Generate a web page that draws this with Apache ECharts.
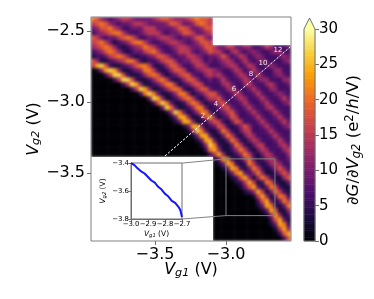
<!DOCTYPE html>
<html><head><meta charset="utf-8">
<style>html,body{margin:0;padding:0;background:#fff}#c{width:374px;height:299px}</style>
<script src="https://cdn.jsdelivr.net/npm/echarts@6/dist/echarts.min.js"></script>
</head><body><div id="c"></div>
<script>
// dG/dVg2, one digit per cell, in units of 3 e^2/h/V
const unit = 3;
// cells left of the stitch at Vg1 = -3.07 (rows from the top, 28 columns)
const leftRows = [
"7643 2345 5433 3345 6654 4456 7665",
"5676 4323 3455 4333 3466 5334 6765",
"3466 7542 2333 5553 3334 6653 3466",
"2345 6775 3223 4555 3233 4665 3345",
"6532 3356 7642 2334 5543 2334 6643",
"5675 3123 4677 5322 3455 4323 4665",
"4567 6421 2345 7653 2234 5543 3466",
"2346 7642 1233 5675 3223 5553 2346",
"1223 5676 4212 2346 6532 3355 4323",
"6411 2345 7752 1223 5664 2335 5423",
"5896 2112 3467 7521 2466 4223 5542",
"0148 9841 1234 7752 1246 6522 3455",
"0002 5996 2112 4676 3123 5663 2245",
"0000 0259 9621 1246 7521 2466 4223",
"0000 0002 5984 1123 5774 1235 6522",
"0000 0000 0259 8411 2467 6212 4663",
"0000 0000 0002 7973 1124 7741 2356",
"0000 0000 0000 0398 4112 4675 2135",
"0000 0000 0000 0026 9731 1257 6312",
"0000 0000 0000 0000 3973 1124 7731",
"0000 0000 0000 0000 0149 7312 4773",
"0000 0000 0000 0000 0013 8841 1368",
"0000 0000 0000 0000 0001 3884 1124",
"0000 0000 0000 0000 0000 0138 8412",
"0000 0000 0000 0000 0000 0014 9731",
"0000 0000 0000 0000 0000 0001 3883",
"0000 0000 0000 0000 0000 0000 1388",
"0000 0000 0000 0000 0000 0000 0149",
"0000 0000 0000 0000 0000 0000 0027",
"0000 0000 0000 0000 0000 0000 0002"
];
// cells right of the stitch (18 columns), starting at row 6
const rightRowStart = 6;
const rightRows = [
"5335 5334 4223 5422 23",
"5532 4532 3432 2344 22",
"3464 2354 2343 2223 43",
"2345 4235 3234 3222 34",
"2234 5423 5422 3432 22",
"4322 3542 3532 2244 22",
"4532 2354 2353 2234 32",
"2353 2235 4234 4222 44",
"2245 3224 5322 4532 23",
"2224 5322 3532 2442 22",
"6322 3542 2353 2234 32",
"5632 2354 2235 3223 53",
"3563 2235 3223 5322 34",
"2356 3223 5322 4532 22",
"1235 6322 3532 2353 22",
"4123 6522 2353 2235 32",
"6521 3652 2235 3223 53",
"3652 1246 4223 5322 34",
"1375 2135 5222 3532 22",
"1137 5213 5422 2353 22",
"3113 7521 3542 2235 32",
"7211 3752 1355 2224 53",
"8411 2475 2135 4222 45",
"5841 1247 5213 5422 24",
"1387 2125 7312 4542 23",
"0138 7212 7521 2454 22",
"0013 8721 3752 1246 42",
"0001 3783 2474 1124 64",
"0000 1268 4147 5211 46",
"0000 0125 8512 7621 13",
"0000 0013 6831 3762 11",
"0000 0001 2485 1375 21",
"0000 0000 0158 4137 62",
"0000 0000 0026 8313 75",
"0000 0000 0013 8721 37",
"0000 0000 0001 3861 14",
"0000 0000 0000 1484 12",
"0000 0000 0000 0268 31",
"0000 0000 0000 0138 72",
"0000 0000 0000 0015 84",
"0000 0000 0000 0002 68",
"0000 0000 0000 0000 26"
];
const nCols = 46, nRows = 48;
const xRange = [-3.951, -2.542], yRange = [-3.979, -2.4];
const xTicks = [-3.5, -3.0], yTicks = [-3.5, -3.0, -2.5];
const cutLineX = [-3.43, -2.542], cutLineY = [-3.38, -2.606];
const cutNames = ["2","4","6","8","10","12"];
const cutLabelX = [-3.162,-3.070,-2.944,-2.824,-2.739,-2.634];
const cutLabelY = [-3.099,-3.014,-2.908,-2.803,-2.725,-2.634];
const zoomBoxX = [-3.0,-2.655], zoomBoxY = [-3.8,-3.4];
const insetCornerX = -3.31, insetCornerY = [-3.43,-3.824];
const insetV1 = [-3.00,-2.98,-2.96,-2.94,-2.92,-2.90,-2.88,-2.86,-2.84,-2.82,-2.80,-2.78,-2.76,-2.74,-2.72,-2.71,-2.70];
const insetV2 = [-3.40,-3.415,-3.44,-3.46,-3.475,-3.50,-3.525,-3.54,-3.57,-3.59,-3.62,-3.64,-3.67,-3.685,-3.715,-3.735,-3.785];
const insetXTicks = [-3.0,-2.9,-2.8,-2.7];
const barTicks = [0,5,10,15,20,25,30];
const inferno = ['#000004','#1b0c41','#4a0c6b','#781c6d','#a52c60','#cf4446','#ed6925','#fb9b06','#f7d13d','#fcffa4'];

const cells = [];
leftRows.forEach((s,r)=>{ s.replace(/ /g,'').split('').forEach((d,c)=>cells.push([c,r,+d*unit])); });
rightRows.forEach((s,i)=>{ s.replace(/ /g,'').split('').forEach((d,c)=>cells.push([c+28,i+rightRowStart,+d*unit])); });
const idx = n => Array.from({length:n},(_,i)=>i);
const barLevels = idx(120).map(i=>[0,i,(i+0.5)/120*30]);

const fmt = v => (+v).toFixed(1).replace('-','\u2212');
const FONT = 'DejaVu Sans';
const gray = '#6e6e6e';
const TOP = 1;
const nameRich = sz => ({
  i:{fontFamily:FONT,fontStyle:'italic',fontSize:sz,color:'#000'},
  s:{fontFamily:FONT,fontStyle:'italic',fontSize:sz*0.7,color:'#000',verticalAlign:'bottom',padding:[sz*0.35,0,0,0]},
  u:{fontFamily:FONT,fontSize:sz*0.7,color:'#000',verticalAlign:'top',padding:[0,0,sz*0.4,0]},
  n:{fontFamily:FONT,fontSize:sz,color:'#000'},
  p:{width:10}
});
const hiddenCat = (g,n,extra)=>Object.assign({type:'category',gridIndex:g,show:false,data:idx(n),zlevel:TOP},extra||{});
const mainAxis = (pos,range,ticks,name,gap)=>({
  type:'value',gridIndex:0,position:pos,min:range[0],max:range[1],scale:true,zlevel:TOP,
  splitLine:{show:false},
  axisLine:{show:false,onZero:false},
  axisTick:{show:true,length:4,lineStyle:{color:gray},customValues:ticks},
  axisLabel:{fontFamily:FONT,fontSize:16,color:'#000',margin:6,customValues:ticks,formatter:fmt},
  name:name,nameLocation:'middle',nameGap:gap,nameMoveOverlap:false,nameTextStyle:{rich:nameRich(16)}
});
const insetAxis = (min,max,interval,name,gap,custom)=>({
  type:'value',gridIndex:2,min:min,max:max,interval:interval,zlevel:TOP,
  splitLine:{show:false},
  axisLine:{show:true,onZero:false,lineStyle:{color:gray,width:1}},
  axisTick:{length:2.5,lineStyle:{color:gray}},
  axisLabel:Object.assign({fontFamily:FONT,fontSize:6.9,color:'#000',margin:2,formatter:fmt},custom?{customValues:custom}:{}),
  name:name,nameLocation:'middle',nameGap:gap,nameMoveOverlap:false,nameTextStyle:{rich:nameRich(7.5)}
});
const grey = (data,w)=>({type:'line',xAxisIndex:1,yAxisIndex:1,data:data,symbol:'none',silent:true,clip:false,z:6,zlevel:TOP,
  lineStyle:{color:'#808080',width:w||1},animation:false});

const chart = echarts.init(document.getElementById('c'),null,{renderer:'canvas'});
chart.setOption({
  animation:false,
  grid:[
    {left:91,top:17,width:200,height:224},
    {left:304,top:29,width:11,height:212},
    {left:131,top:163,width:51,height:56,show:true,borderColor:gray,borderWidth:1,z:8,zlevel:TOP}
  ],
  xAxis:[
    hiddenCat(0,nCols),
    mainAxis('bottom',xRange,xTicks,'{i|V}{s|g1}{n| (V)}',21),
    hiddenCat(1,1),
    Object.assign(insetAxis(-3.0,-2.7,0.1,'{i|V}{s|g1}{n| (V)}',11,insetXTicks),{position:'bottom',z:8})
  ],
  yAxis:[
    hiddenCat(0,nRows,{inverse:true}),
    mainAxis('left',yRange,yTicks,'{i|V}{s|g2}{n| (V)}',49),
    hiddenCat(1,120),
    {type:'value',gridIndex:1,position:'right',min:0,max:30,interval:5,zlevel:TOP,
     splitLine:{show:false},axisLine:{show:false,onZero:false},
     axisTick:{show:true,length:4,lineStyle:{color:gray}},
     axisLabel:{fontFamily:FONT,fontSize:15,color:'#000',margin:4,customValues:barTicks},
     name:'{n|\u2202}{i|G}{n|/\u2202}{i|V}{s|g2}{n| (e}{u|2}{n|/}{i|h}{n|/V)}{p|}',
     nameLocation:'middle',nameGap:29,nameMoveOverlap:false,nameRotate:90,nameTextStyle:{rich:nameRich(16.5)}},
    Object.assign(insetAxis(-3.8,-3.4,0.2,'{i|V}{s|g2}{n| (V)}',24),{position:'left',z:8})
  ],
  visualMap:{show:false,type:'continuous',min:0,max:30,seriesIndex:[0,1],inRange:{color:inferno}},
  series:[
    {type:'heatmap',xAxisIndex:0,yAxisIndex:0,data:cells,progressive:0,animation:false,z:2,zlevel:0},
    {type:'heatmap',xAxisIndex:2,yAxisIndex:2,data:barLevels,progressive:0,animation:false,zlevel:TOP},
    {type:'line',xAxisIndex:1,yAxisIndex:1,data:cutLineX.map((x,i)=>[x,cutLineY[i]]),symbol:'none',clip:false,z:5,zlevel:TOP,
     lineStyle:{color:'#fff',width:1,type:[2.5,1.5]}},
    {type:'scatter',xAxisIndex:1,yAxisIndex:1,symbolSize:1,z:7,zlevel:TOP,itemStyle:{color:'rgba(0,0,0,0)'},
     data:cutNames.map((n,i)=>({name:n,value:[cutLabelX[i],cutLabelY[i]]})),
     label:{show:true,position:'inside',formatter:'{b}',fontFamily:FONT,fontSize:7,color:'#eee',opacity:1}},
    grey([[xRange[0],yRange[0]],[xRange[1],yRange[0]],[xRange[1],yRange[1]],[xRange[0],yRange[1]],[xRange[0],yRange[0]]]),
    grey([[zoomBoxX[0],zoomBoxY[0]],[zoomBoxX[1],zoomBoxY[0]],[zoomBoxX[1],zoomBoxY[1]],[zoomBoxX[0],zoomBoxY[1]],[zoomBoxX[0],zoomBoxY[0]]]),
    grey([[insetCornerX,insetCornerY[0]],[zoomBoxX[0],zoomBoxY[1]]]),
    grey([[insetCornerX,insetCornerY[1]],[zoomBoxX[0],zoomBoxY[0]]]),
    {type:'line',xAxisIndex:3,yAxisIndex:4,data:insetV1.map((x,i)=>[x,insetV2[i]]),symbol:'none',z:9,zlevel:TOP,clip:false,
     lineStyle:{color:'#1414ff',width:2}}
  ],
  graphic:[
    {type:'polygon',z:20,zlevel:TOP,shape:{points:[[304,241],[304,29],[309.5,18],[315,29],[315,241]]},
     style:{fill:'none',stroke:gray,lineWidth:1}},
    {type:'polygon',z:19,zlevel:TOP,shape:{points:[[304,29],[309.5,18],[315,29]]},style:{fill:'#fcffa4'}}
  ]
});
// soften the cell edges of the map layer, as the image interpolation of the original does
const mapLayer = document.querySelectorAll('#c canvas')[0];
mapLayer.style.filter = 'blur(1.4px)';
mapLayer.style.clipPath = 'polygon(91px 17px,213px 17px,213px 45px,291px 45px,291px 241px,213px 241px,213px 157px,91px 157px)';
</script></body></html>
